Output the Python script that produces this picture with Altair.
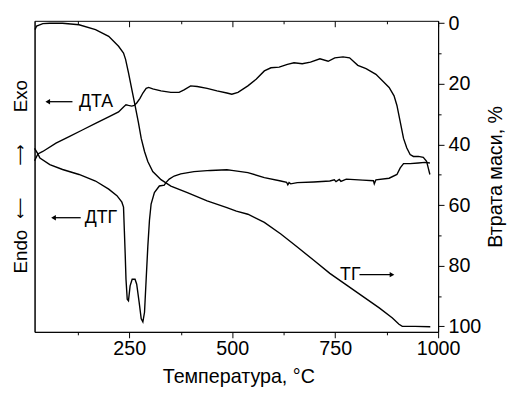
import altair as alt
import pandas as pd

FONT = "Liberation Sans"

# ---- TG (mass loss, %, right axis) ----
tg_t = [21, 25, 40, 57, 88, 128, 168, 200, 224, 236, 241, 248, 256, 264, 272, 279,
        287, 295, 307, 327, 351, 391, 439, 487, 510, 538, 578, 618, 658, 698, 737,
        777, 817, 857, 889, 905, 913, 944, 981]
tg_v = [2.1, 0.9, 0.1, 0.0, 0.0, 0.5, 2.1, 4.3, 7.6, 9.8, 11.9, 16.3, 21.7, 27.1,
        32.6, 38.0, 42.3, 45.6, 48.9, 51.6, 53.7, 55.9, 58.6, 60.8, 62.0, 63.0, 65.7,
        69.5, 73.8, 78.2, 82.5, 86.3, 90.1, 93.9, 97.2, 99.3, 100.0, 100.0, 100.1]

# ---- DTA (arbitrary units, left axis) ----
dta_t = [20, 28, 40, 72, 104, 136, 168, 200, 224, 236, 242, 248, 256, 262, 268, 276,
         283, 291, 297, 307, 327, 351, 371, 383, 399, 415, 439, 463, 487, 499, 514,
         538, 558, 578, 594, 614, 634, 650, 670, 690, 713, 733, 749, 769, 785, 805,
         825, 849, 869, 881, 893, 900, 908, 916, 924, 932, 940, 952, 964, 972, 976, 980]
dta_v = [55.0, 57.2, 58.0, 60.7, 62.8, 64.9, 67.0, 69.1, 70.7, 72.3, 73.0, 72.8, 72.6,
         72.8, 73.6, 75.1, 76.8, 78.3, 78.6, 78.1, 77.5, 77.0, 77.0, 77.8, 79.1, 78.9,
         78.3, 77.5, 76.8, 76.4, 77.0, 79.1, 81.2, 83.9, 84.9, 85.1, 86.0, 86.5, 86.2,
         86.7, 87.8, 87.0, 88.1, 88.4, 88.1, 85.7, 84.6, 82.8, 80.2, 78.6, 75.9, 72.8,
         67.5, 62.2, 59.1, 57.0, 56.4, 56.4, 56.1, 54.8, 52.7, 50.6]

# ---- DTG (arbitrary units, left axis) ----
dtg_t = [20, 28, 33, 57, 88, 128, 168, 200, 220, 232, 236, 238, 240, 242, 245, 248,
         252, 257, 264, 268, 274, 279, 283, 287, 291, 295, 299, 303, 311, 323, 335,
         339, 347, 359, 375, 407, 447, 487, 499, 538, 578, 618, 632, 635, 638, 642,
         658, 698, 737, 748, 752, 760, 764, 777, 817, 843, 845, 849, 881, 900, 908,
         916, 932, 952, 968, 980]
dtg_v = [59.0, 57.2, 55.9, 53.8, 52.2, 50.6, 48.5, 45.9, 43.8, 41.7, 40.1, 32.7, 25.3,
         16.9, 10.5, 10.0, 14.8, 16.9, 16.9, 15.3, 9.5, 4.2, 3.2, 6.3, 16.9, 27.4,
         35.9, 41.1, 44.8, 46.9, 47.2, 48.0, 49.1, 50.1, 50.8, 51.5, 51.9, 52.1, 51.9,
         51.2, 49.6, 48.5, 48.1, 47.3, 48.0, 47.6, 48.0, 48.2, 48.5, 48.9, 48.3, 49.0,
         48.4, 49.1, 48.8, 48.6, 47.6, 48.9, 49.4, 50.6, 52.7, 54.1, 54.1, 54.3, 54.5,
         54.3]

# ---- annotations ----
ann_label = ["ДТА", "ДТГ", "ТГ"]
ann_t = [128, 142, 762]
ann_y = [74.0, 36.7, 18.4]
arrow_tip = [52, 66, 888]
arrow_tail = [112, 132, 809]
arrow_shape = ["triangle-left", "triangle-left", "triangle-right"]

major_x = [250, 500, 750, 1000]
minor_x = [125, 375, 625, 875]
major_y = [0, 20, 40, 60, 80, 100]
minor_y = [10, 30, 50, 70, 90]

tg_df = pd.DataFrame({"T": tg_t, "v": tg_v, "i": range(len(tg_t))})
dta_df = pd.DataFrame({"T": dta_t, "v": dta_v, "i": range(len(dta_t))})
dtg_df = pd.DataFrame({"T": dtg_t, "v": dtg_v, "i": range(len(dtg_t))})
ann_df = pd.DataFrame({"label": ann_label, "T": ann_t, "y": ann_y,
                       "tip": arrow_tip, "tail": arrow_tail, "shape": arrow_shape})

xs = alt.Scale(domain=[20, 1000], nice=False, zero=False)
ys_tg = alt.Scale(domain=[-0.8, 101.8], reverse=True, nice=False, zero=False)
ys_arb = alt.Scale(domain=[0, 100], nice=False, zero=False)

LW = 1.4


def left_title(text, ty, tx, size, font=FONT, domain=False):
    return alt.Axis(orient="left", ticks=False, labels=False, domain=domain,
                    title=text, titleX=tx, titleY=ty, titleAngle=270,
                    titleBaseline="alphabetic", titleAlign="center",
                    titleFontSize=size, titleFont=font)


tg_main = alt.Chart(tg_df).mark_line(color="black", strokeWidth=LW).encode(
    x=alt.X("T:Q", scale=xs, axis=alt.Axis(
        orient="bottom", values=major_x, tickSize=6, labelPadding=1, format="d",
        labelFlush=False, labelOverlap=False,
        title="Температура, °C", titleX=207, titleY=51, titleBaseline="alphabetic",
        titleFontSize=20)),
    y=alt.Y("v:Q", scale=ys_tg, axis=alt.Axis(
        orient="right", values=major_y, tickSize=6, labelPadding=4, format="d",
        labelFlush=False, labelOverlap=False,
        title="Втрата маси, %", titleAngle=270, titleX=64, titleY=158,
        titleBaseline="alphabetic", titleAlign="center", titleFontSize=20)),
    order="i:Q",
)

tg_minor = alt.Chart(tg_df).mark_line(strokeOpacity=0).encode(
    x=alt.X("T:Q", scale=xs, axis=alt.Axis(
        orient="bottom", values=minor_x, tickSize=3, labels=False, domain=False,
        title=None)),
    y=alt.Y("v:Q", scale=ys_tg, axis=alt.Axis(
        orient="right", values=minor_y, tickSize=3, labels=False, domain=False,
        title=None)),
    order="i:Q",
)

dta_line = alt.Chart(dta_df).mark_line(color="black", strokeWidth=LW).encode(
    x=alt.X("T:Q", scale=xs, axis=alt.Axis(
        orient="top", values=major_x, tickSize=6, offset=-6, labels=False,
        domain=False, title=None)),
    y=alt.Y("v:Q", scale=ys_arb, axis=left_title("Exo", 76, -8, 19, domain=True)),
    order="i:Q",
)

dtg_line = alt.Chart(dtg_df).mark_line(color="black", strokeWidth=LW).encode(
    x=alt.X("T:Q", scale=xs, axis=alt.Axis(
        orient="top", values=minor_x, tickSize=3, offset=-3, labels=False,
        domain=False, title=None)),
    y=alt.Y("v:Q", scale=ys_arb, axis=left_title("Endo", 234, -8, 19)),
    order="i:Q",
)

ann_text = alt.Chart(ann_df).mark_text(
    align="left", baseline="middle", font=FONT, fontSize=18, color="black"
).encode(
    x=alt.X("T:Q", scale=xs, axis=None),
    y=alt.Y("y:Q", scale=ys_arb,
            axis=left_title("⟶", 136, -10, 15, font="DejaVu Sans")),
    text="label:N",
)

ann_rule = alt.Chart(ann_df).mark_rule(color="black", strokeWidth=1.3).encode(
    x=alt.X("tip:Q", scale=xs, axis=None),
    x2="tail:Q",
    y=alt.Y("y:Q", scale=ys_arb,
            axis=left_title("⟵", 190, -10, 15, font="DejaVu Sans")),
)

ann_head = alt.Chart(ann_df).mark_point(
    filled=True, color="black", size=30, opacity=1
).encode(
    x=alt.X("tip:Q", scale=xs, axis=None),
    y=alt.Y("y:Q", scale=ys_arb, axis=None),
    shape=alt.Shape("shape:N", scale=None),
)

chart = alt.layer(
    tg_main, tg_minor, dta_line, dtg_line, ann_rule, ann_head, ann_text
).resolve_scale(
    y="independent"
).resolve_axis(
    x="independent", y="independent"
).properties(
    width=410, height=316,
    autosize=alt.AutoSizeParams(type="none"),
    padding={"left": 27, "top": 10, "right": 71, "bottom": 54},
).configure_view(
    stroke="black", strokeWidth=1
).configure_axis(
    grid=False, domainColor="black", tickColor="black", labelColor="black",
    titleColor="black", labelFont=FONT, titleFont=FONT, labelFontSize=20,
    titleFontWeight="normal", domainWidth=1, tickWidth=1,
)

chart.save("out.html", embed_options={"renderer": "svg", "actions": False})
